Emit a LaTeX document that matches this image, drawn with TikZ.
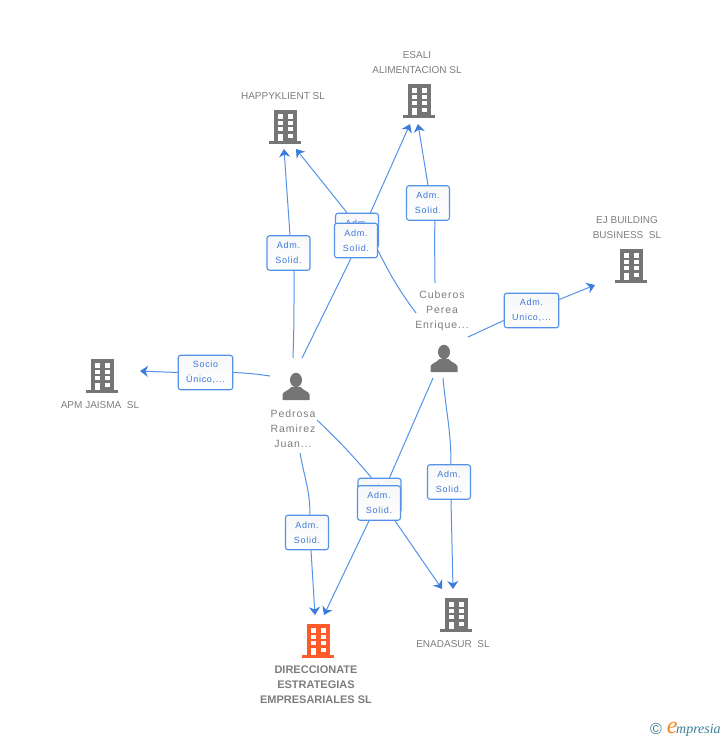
\documentclass[tikz,border=0pt]{standalone}
\usepackage{fontspec}
\usepackage{xcolor}
\usepackage{tikz}
\usetikzlibrary{arrows.meta,backgrounds}
\setmainfont{Liberation Sans}
\newfontfamily\boxfont[LetterSpace=8]{Liberation Sans}
\newfontfamily\namefont[LetterSpace=9]{Liberation Sans}
\newfontfamily\logofont{Liberation Serif}
\definecolor{iconGray}{RGB}{117,117,117}
\definecolor{textGray}{RGB}{125,125,125}
\definecolor{mainOrange}{RGB}{255,90,40}
\definecolor{linkBlue}{RGB}{84,146,232}
\definecolor{tipBlue}{RGB}{58,124,222}
\definecolor{boxBlue}{RGB}{58,120,220}
\definecolor{logoTeal}{RGB}{60,125,150}
\definecolor{logoOrange}{RGB}{245,135,30}
\tikzset{
  building/.pic={
    \fill[pic actions] (-11.5,0) rectangle (11.5,31);
    \fill[pic actions] (-16,31) rectangle (16,33.5);
    \foreach \rowy in {4.3,10.5,17}{
      \fill[white] (-7.5,\rowy) rectangle (-2.5,\rowy+4.3);
      \fill[white] (2.5,\rowy) rectangle (7.5,\rowy+4.3);
    }
    \fill[white] (-7.5,23.7) rectangle (-2.5,31);
    \fill[white] (2.5,23.7) rectangle (7.5,28.3);
  },
  person/.pic={
    \fill[iconGray] (0,7) ellipse (6 and 7.2);
    \fill[iconGray] (-13.5,27) -- (-13.5,21.5) .. controls (-13,18.5) and (-8,18) .. (-4.5,14)
      -- (4.5,14) .. controls (8,18) and (13,18.5) .. (13.5,21.5) -- (13.5,27) -- cycle;
  },
  labelbox/.style={draw=linkBlue, line width=1.1pt, rounded corners=2.5pt, top color=black!3,
    bottom color=white, minimum width=43pt, minimum height=34.5pt, inner sep=0pt, align=center,
    text=boxBlue, font=\boxfont\fontsize{9}{15}\selectfont},
  widebox/.style={labelbox, minimum width=54.5pt},
  company/.style={align=center, inner sep=0pt, text=textGray, font=\fontsize{10}{15}\selectfont},
  mainco/.style={company, font=\bfseries\fontsize{11}{15}\selectfont},
  personname/.style={align=center, inner sep=0pt, text=textGray, font=\namefont\fontsize{10.5}{15}\selectfont},
  link/.style={draw=linkBlue, line width=1pt},
  linkto/.style={link, -{Stealth[length=8pt,width=11pt,inset=2.5pt,color=tipBlue]}},
}

\begin{document}
\begin{tikzpicture}[x=1pt,y=-1pt]
\useasboundingbox (0,0) rectangle (728,740);

% icons
\pic[fill=iconGray] at (285,110) {building};
\pic[fill=iconGray] at (419,84) {building};
\pic[fill=iconGray] at (631,249) {building};
\pic[fill=iconGray] at (102,359) {building};
\pic[fill=iconGray] at (456,598) {building};
\pic[fill=mainOrange] at (318,624) {building};
\pic at (296,373) {person};
\pic at (444,345) {person};

% names
\node[company] (happyklient) at (283,96) {HAPPYKLIENT SL};
\node[company] (esali) at (417,62.5) {ESALI\\ALIMENTACION SL};
\node[company] (ejbuilding) at (627,227.5) {EJ BUILDING\\BUSINESS\ \ SL};
\node[company] (apmjaisma) at (100,405) {APM JAISMA\ \ SL};
\node[company] (enadasur) at (453,644) {ENADASUR\ \ SL};
\node[mainco] (direccionate) at (316,685) {DIRECCIONATE\\ESTRATEGIAS\\EMPRESARIALES SL};
\node[personname] (pedrosa) at (293,429) {Pedrosa\\Ramirez\\Juan...};
\node[personname] (cuberos) at (442,311) {Cuberos\\Perea\\Enrique...};

% role boxes
\node[labelbox] (roleHappyA) at (288.5,253) {Adm.\\Solid.};
\node[labelbox] (roleHappyB) at (357,230.5) {Adm.\\Solid.};
\node[labelbox] (roleEsaliA) at (356,240.5) {Adm.\\Solid.};
\node[labelbox] (roleEsaliB) at (428,203) {Adm.\\Solid.};
\node[widebox] (roleEj) at (531.5,310.5) {Adm.\\Unico,...};
\node[widebox] (roleApm) at (205.5,372.5) {Socio\\Único,...};
\node[labelbox] (roleEnaA) at (379.5,495.5) {Adm.\\Solid.};
\node[labelbox] (roleDirB) at (379,503) {Adm.\\Solid.};
\node[labelbox] (roleDirA) at (307,532.5) {Adm.\\Solid.};
\node[labelbox] (roleEnaB) at (449,482) {Adm.\\Solid.};

% free ends next to the two persons
\coordinate (pedHappy) at (293,358);
\coordinate (pedEsali) at (302,358);
\coordinate (pedApm) at (270,376);
\coordinate (pedDir) at (300,453);
\coordinate (pedEna) at (317,420);
\coordinate (cubHappy) at (416,313);
\coordinate (cubEsali) at (435,283);
\coordinate (cubEj) at (468,337);
\coordinate (cubDir) at (433,378);
\coordinate (cubEna) at (443,378);

% free ends next to the companies
\coordinate (inHappyA) at (284,149);
\coordinate (inHappyB) at (296,149);
\coordinate (inEsaliA) at (410,124);
\coordinate (inEsaliB) at (418,124);
\coordinate (inEj) at (595,285);
\coordinate (inApm) at (140,371);
\coordinate (inDirA) at (315,615);
\coordinate (inDirB) at (324,615);
\coordinate (inEnaA) at (442,589);
\coordinate (inEnaB) at (453,589);

\begin{scope}[on background layer]
\draw[link] (pedHappy) to[out=88,in=-90] ([xshift=5.5pt]roleHappyA.south);
\draw[linkto] ([xshift=1.5pt]roleHappyA.north) -- (inHappyA);
\draw[link] (cubHappy) to[bend left=5] ([yshift=-10pt]roleEsaliA.east);
\draw[linkto] ([xshift=-10pt]roleHappyB.north) -- (inHappyB);
\draw[link] (pedEsali) -- ([xshift=-5pt]roleEsaliA.south);
\draw[linkto] ([xshift=10pt]roleEsaliA.north) -- (inEsaliA);
\draw[link] (cubEsali) to[out=90,in=-92] ([xshift=7pt]roleEsaliB.south);
\draw[linkto] (roleEsaliB.north) -- (inEsaliB);
\draw[link] (cubEj) -- ([yshift=-10pt]roleEj.west);
\draw[linkto] ([yshift=11pt]roleEj.east) -- (inEj);
\draw[link] (pedApm) to[bend right=3] (roleApm.east);
\draw[linkto] (roleApm.west) -- (inApm);
\draw[link] (pedDir) to[out=-80,in=90] ([xshift=3pt]roleDirA.north);
\draw[linkto] ([xshift=4pt]roleDirA.south) -- (inDirA);
\draw[link] (pedEna) to[bend left=3] ([xshift=-8pt]roleEnaA.north);
\draw[linkto] ([xshift=16pt]roleDirB.south) -- (inEnaA);
\draw[link] (cubDir) -- ([xshift=10pt]roleEnaA.north);
\draw[linkto] ([xshift=-10pt]roleDirB.south) -- (inDirB);
\draw[link] (cubEna) to[out=-85,in=90] ([xshift=2pt]roleEnaB.north);
\draw[linkto] ([xshift=2pt]roleEnaB.south) -- (inEnaB);
\end{scope}

% logo
\node[inner sep=0pt, anchor=base west] (logo) at (650,733.5) {%
  \textcolor{logoTeal}{\fontsize{16}{16}\selectfont\raisebox{-0.5pt}{©}}\hspace{5pt}%
  \textcolor{logoOrange}{\logofont\itshape\fontsize{24}{24}\selectfont e}\hspace{-1.5pt}%
  \textcolor{logoTeal}{\logofont\itshape\fontsize{14}{14}\selectfont mpresia}};
\end{tikzpicture}
\end{document}
